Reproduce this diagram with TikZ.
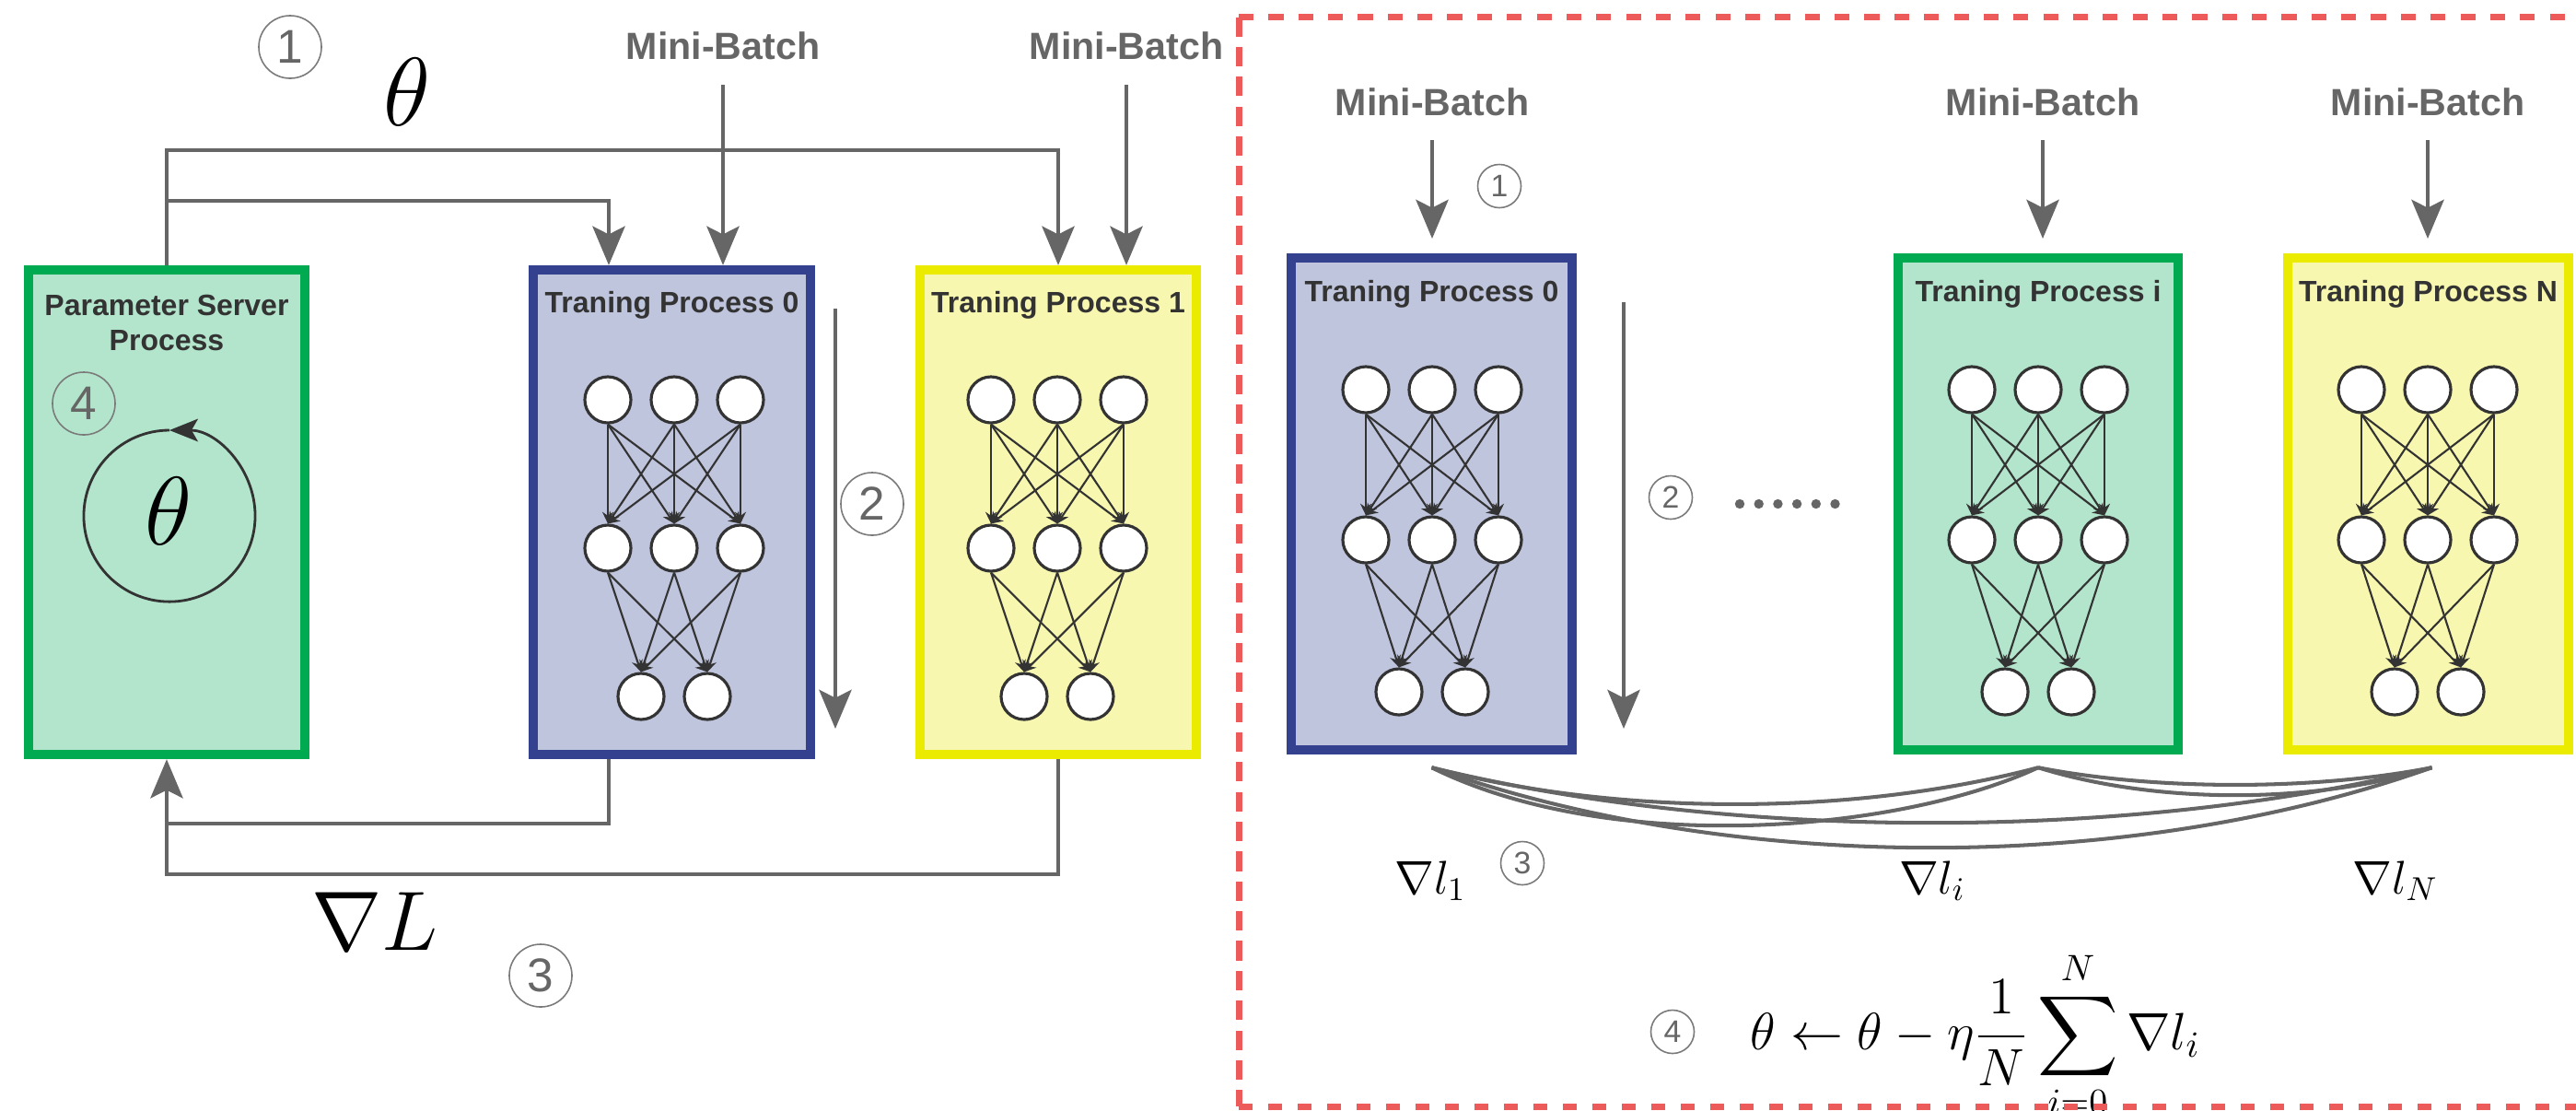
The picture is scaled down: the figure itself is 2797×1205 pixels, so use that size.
\RequirePackage{fix-cm}
\documentclass[tikz,border=0pt]{standalone}
\usepackage{amsmath}
\usepackage{exscale}
\usepackage{fontspec}
\newfontfamily\lsans{Liberation Sans}
\usetikzlibrary{arrows.meta}
\definecolor{lg}{HTML}{666666}
\definecolor{dk}{HTML}{333333}
\definecolor{cg}{HTML}{7A7A7A}
\definecolor{grn}{HTML}{00AA50}
\definecolor{grnf}{HTML}{B3E5CC}
\definecolor{blu}{HTML}{33418F}
\definecolor{bluf}{HTML}{C0C5DE}
\definecolor{yel}{HTML}{EBEB00}
\definecolor{yelf}{HTML}{F7F7B0}
\definecolor{rd}{HTML}{EC5A5A}
\tikzset{
  gline/.style={draw=lg, line width=1.25pt},
  bigtip/.style={-{Stealth[length=12pt,width=10pt,inset=2.5pt]}},
  proc/.style={draw, line width=2.85pt, minimum width=3cm, inner sep=0pt},
  neuron/.style={circle, draw=dk, fill=white, line width=0.9pt, minimum size=0.5cm, inner sep=0pt},
  nedge/.style={draw=dk, line width=0.6pt, -{Stealth[length=3.6pt,width=3.4pt]}},
  ttl/.style={font=\lsans\bfseries\fontsize{9.1}{10.8}\selectfont, text=dk, inner sep=0pt, align=center},
  mb/.style={font=\lsans\bfseries\fontsize{11.7}{14}\selectfont, text=lg, inner sep=0pt},
  cnum/.style={circle, draw=cg, line width=0.45pt, minimum size=0.68cm, inner sep=0pt, text=lg, font=\lsans\fontsize{14.6}{15}\selectfont},
  cnums/.style={cnum, minimum size=0.47cm, font=\lsans\fontsize{9.6}{11}\selectfont},
  rdash/.style={draw=rd, line width=2pt},
  curv/.style={draw=lg, line width=1.15pt},
}
% #1 prefix, #2 centre x, #3 #4 #5 row y positions
\newcommand{\mynet}[5]{%
  \foreach \i/\dx in {1/-72,2/0,3/72} {
    \node[neuron] (#1t\i) at (#2+\dx,#3) {};
    \node[neuron] (#1m\i) at (#2+\dx,#4) {};
  }
  \foreach \i/\dx in {1/-36,2/36} {
    \node[neuron] (#1b\i) at (#2+\dx,#5) {};
  }
  \foreach \i in {1,2,3} {
    \foreach \j in {1,2,3} { \draw[nedge] (#1t\i.south) -- (#1m\j.north); }
    \foreach \j in {1,2} { \draw[nedge] (#1m\i.south) -- (#1b\j.north); }
  }
}
\begin{document}
\begin{tikzpicture}[x=0.01cm,y=-0.01cm]
\useasboundingbox (0,0) rectangle (2797,1205);
\clip (0,0) rectangle (2797,1205);

% ---------------- left part ----------------
\node[proc, draw=grn, fill=grnf, minimum height=5.26cm] (ps) at (181,556) {};
\node[proc, draw=blu, fill=bluf, minimum height=5.26cm] (tpA) at (729.5,556) {};
\node[proc, draw=yel, fill=yelf, minimum height=5.26cm] (tpB) at (1149,556) {};

\node[ttl] (pslbl) at (181,350) {Parameter Server\\Process};
\node[ttl] (tpAlbl) at (729.5,331) {Traning Process 0};
\node[ttl] (tpBlbl) at (1149,331) {Traning Process 1};

\mynet{la}{732}{434}{595}{756}
\mynet{lb}{1148}{434}{595}{756}

% parameter server inner loop
\node[cnum] (n4) at (91,438) {4};
\coordinate (psc) at (184,560);
\draw[dk, line width=0.8pt, -{Stealth[length=8.8pt,width=7pt,inset=2pt]}] (psc) ++(0,-93) arc[start angle=90, end angle=450, radius=0.93cm];
\node[font=\fontsize{30}{34}\selectfont, inner sep=0pt] (psth) at (183,555) {$\theta$};

% theta broadcast
\node[cnum] (n1) at (315,51) {1};
\node[font=\fontsize{30}{34}\selectfont, inner sep=0pt] (thtop) at (442,100) {$\theta$};
\coordinate (tB) at (1149,163);
\coordinate (tA) at (661,218);
\draw[gline, bigtip] (ps.north) |- (tB) -- (tB |- tpB.north);
\draw[gline, bigtip] (ps.north |- tA) -- (tA) -- (tA |- tpA.north);

% mini-batches (left)
\node[mb] (mbA) at (785,50) {Mini-Batch};
\node[mb] (mbB) at (1223,50) {Mini-Batch};
\coordinate (mbAs) at (785,92);
\coordinate (mbBs) at (1223,92);
\draw[gline, bigtip] (mbAs) -- (mbAs |- tpA.north);
\draw[gline, bigtip] (mbBs) -- (mbBs |- tpB.north);

% step 2 (left)
\coordinate (l2s) at (907,335);
\coordinate (l2e) at (907,791);
\draw[gline, bigtip] (l2s) -- (l2e);
\node[cnum] (n2) at (947,547) {2};

% gradients back
\coordinate (fA) at (661,894);
\coordinate (fB) at (1149,949);
\draw[gline] (fA |- tpA.south) -- (fA) -- (ps.south |- fA);
\draw[gline, bigtip] (fB |- tpB.south) -- (fB) -- (ps.south |- fB) -- (ps.south);
\node[font=\fontsize{26}{30}\selectfont, inner sep=0pt] (gL) at (407,1000) {$\nabla L$};
\node[cnum] (n3) at (587,1059) {3};

% ---------------- right part ----------------
\node[proc, draw=blu, fill=bluf, minimum width=3.05cm, minimum height=5.34cm] (rp0) at (1554.5,547) {};
\node[proc, draw=grn, fill=grnf, minimum width=3.04cm, minimum height=5.34cm] (rpi) at (2213,547) {};
\node[proc, draw=yel, fill=yelf, minimum width=3.05cm, minimum height=5.34cm] (rpN) at (2636.5,547) {};

\node[ttl] (rp0lbl) at (1554.5,319) {Traning Process 0};
\node[ttl] (rpilbl) at (2213,319) {Traning Process i};
\node[ttl] (rpNlbl) at (2636.5,319) {Traning Process N};

\mynet{ra}{1555}{423}{586}{751}
\mynet{rb}{2213}{423}{586}{751}
\mynet{rc}{2636}{423}{586}{751}

\node[mb] (rmb0) at (1555,111) {Mini-Batch};
\node[mb] (rmbi) at (2218,111) {Mini-Batch};
\node[mb] (rmbN) at (2636,111) {Mini-Batch};
\coordinate (rmb0s) at (1555,152);
\coordinate (rmbis) at (2218,152);
\coordinate (rmbNs) at (2636,152);
\draw[gline, bigtip] (rmb0s) -- ++(0,107);
\draw[gline, bigtip] (rmbis) -- ++(0,107);
\draw[gline, bigtip] (rmbNs) -- ++(0,107);
\node[cnums] (r1) at (1628,202) {1};

% step 2 (right)
\coordinate (r2s) at (1763,328);
\coordinate (r2e) at (1763,791);
\draw[gline, bigtip] (r2s) -- (r2e);
\node[cnums] (r2) at (1814,540) {2};
\foreach \k in {0,...,5} { \fill[lg] (1889+20.7*\k,547) circle[radius=0.052cm]; }

% all-reduce curves
\coordinate (c0) at ([yshift=-0.14cm]rp0.south);
\coordinate (ci) at ([yshift=-0.14cm]rpi.south);
\coordinate (cN) at ([yshift=-0.14cm,xshift=0.04cm]rpN.south);
\draw[curv] (c0) .. controls +(200,53) and +(-200,53) .. (ci);
\draw[curv] (ci) .. controls +(-150,70) and +(196,97) .. (c0);
\draw[curv] (c0) .. controls +(327,80) and +(-327,80) .. (cN);
\draw[curv] (c0) .. controls +(327,116) and +(-327,116) .. (cN);
\draw[curv] (ci) .. controls +(128,25) and +(-128,25) .. (cN);
\draw[curv] (ci) .. controls +(128,40) and +(-128,40) .. (cN);

\node[font=\fontsize{14.6}{17}\selectfont, anchor=base, inner sep=0pt] (g1) at (1553,970) {$\nabla l_1$};
\node[font=\fontsize{14.6}{17}\selectfont, anchor=base, inner sep=0pt] (gi) at (2098,970) {$\nabla l_i$};
\node[font=\fontsize{14.6}{17}\selectfont, anchor=base, inner sep=0pt] (gN) at (2601,970) {$\nabla l_N$};
\node[cnums] (r3) at (1653,937) {3};

% update rule
\node[cnums] (r4) at (1816,1120) {4};
\node[anchor=base west, inner sep=0pt, font=\fontsize{16.2}{19}\selectfont] (frm) at (1900,1139)
  {$\displaystyle \theta \leftarrow \theta - \eta \frac{1}{N}\sum_{i=0}^{N}\nabla l_i$};

% dashed frame
\coordinate (rdTL) at (1345,18.5);
\coordinate (rdTR) at (2830,18.5);
\coordinate (rdBL) at (1345,1201);
\coordinate (rdBR) at (2830,1201);
\draw[rdash, dash pattern=on 4.6pt off 4.6pt] (rdTL) -- (rdTR);
\draw[rdash, dash pattern=on 6pt off 3.2pt] (rdTL) -- (rdBL);
\draw[rdash, dash pattern=on 4.3pt off 4.8pt] (rdBL) -- (rdBR);
\end{tikzpicture}
\end{document}
